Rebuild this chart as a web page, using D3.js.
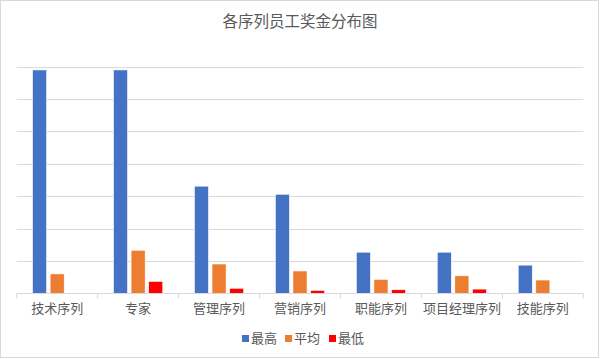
<!DOCTYPE html>
<html><head><meta charset="utf-8">
<script src="https://cdn.jsdelivr.net/npm/d3@7"></script>
<style>body{margin:0;background:#fff;}svg{display:block;font-family:"Noto Sans CJK SC","Noto Sans",sans-serif;}</style>
</head><body>
<svg id="c" width="600" height="359"></svg>
<script>
const categories = ["技术序列","专家","管理序列","营销序列","职能序列","项目经理序列","技能序列"];
const seriesNames = ["最高","平均","最低"];
const maxVals = [69000, 69000, 33100, 30600, 12700, 12700, 8700];
const avgVals = [6000, 13300, 9050, 6900, 4300, 5400, 4100];
const minVals = [0, 3700, 1550, 900, 1100, 1300, 0];
const yTicks = [0,10000,20000,30000,40000,50000,60000,70000];
const colors = ["#4472C4","#ED7D31","#FF0000"];

const svg = d3.select("#c");
svg.append("rect").attr("x",0.5).attr("y",0.5).attr("width",598).attr("height",357)
  .attr("fill","#fff").attr("stroke","#d9d9d9");

const pLeft=16.7, pRight=583.3, pTop=66.7, pBottom=293.3;
const x = d3.scaleBand().domain(categories).range([pLeft,pRight]).paddingInner(0).paddingOuter(0);
const y = d3.scaleLinear().domain([0,70000]).range([pBottom,pTop]);
const xs = d3.scaleBand().domain(seriesNames).range([0,x.bandwidth()]).paddingInner(0.2).paddingOuter(0.9);

// gridlines
svg.append("g").selectAll("line").data(yTicks.slice(1)).join("line")
  .attr("x1",pLeft).attr("x2",pRight)
  .attr("y1",d=>Math.round(y(d))+0.5).attr("y2",d=>Math.round(y(d))+0.5)
  .attr("stroke","#d9d9d9").attr("stroke-width",1);

const data = categories.map((c,i)=>({c, v:[maxVals[i],avgVals[i],minVals[i]]}));
const g = svg.append("g");
data.forEach(d=>{
  d.v.forEach((v,j)=>{
    if(v<=0) return;
    g.append("rect")
      .attr("x", x(d.c)+xs(seriesNames[j]))
      .attr("y", y(v))
      .attr("width", xs.bandwidth())
      .attr("height", pBottom - y(v))
      .attr("fill", colors[j])
      .attr("stroke","#fff").attr("stroke-width",0.6);
  });
});

// x axis
const xa = svg.append("g").attr("transform",`translate(0,${Math.round(pBottom)+0.5})`);
xa.append("line").attr("x1",pLeft).attr("x2",pRight).attr("stroke","#d9d9d9");
const bounds = categories.map(c=>x(c)).concat([pRight]);
xa.selectAll("line.t").data(bounds).join("line").attr("class","t")
  .attr("x1",d=>d).attr("x2",d=>d).attr("y1",0).attr("y2",5).attr("stroke","#d9d9d9");
xa.selectAll("text").data(categories).join("text")
  .attr("x",d=>x(d)+x.bandwidth()/2).attr("y",19)
  .attr("text-anchor","middle").attr("font-size",13).attr("fill","#595959").text(d=>d);

// title
svg.append("text").attr("x",300).attr("y",27).attr("text-anchor","middle")
  .attr("font-size",15.5).attr("fill","#595959").text("各序列员工奖金分布图");

// legend
const legX=[242,285,329];
const lg = svg.append("g");
seriesNames.forEach((s,i)=>{
  lg.append("rect").attr("x",legX[i]).attr("y",335).attr("width",7).attr("height",7).attr("fill",colors[i]);
  lg.append("text").attr("x",legX[i]+9).attr("y",343).attr("font-size",13).attr("fill","#595959").text(s);
});
</script>
</body></html>
